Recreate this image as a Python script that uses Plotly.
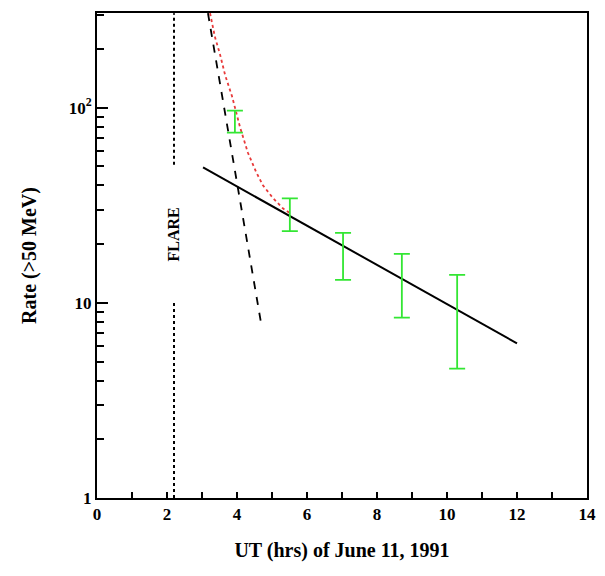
import plotly.graph_objects as go

# measured points (UT hours, rate) with asymmetric error bars
obs_x = [3.94, 5.51, 7.03, 8.71, 10.29]
obs_y = [85.0, 28.8, 18.0, 13.1, 9.25]
obs_hi = [96.6, 34.3, 22.8, 17.8, 13.9]
obs_lo = [74.5, 23.3, 13.1, 8.4, 4.6]

# slow decay fit (solid) and fast decay fit (dashed), end points
slow_x = [3.03, 12.0]
slow_y = [49.4, 6.2]
fast_x = [3.17, 4.71]
fast_y = [305, 7.45]

# sum of both components (red dotted)
sum_x = [3.23, 3.37, 3.51, 3.66, 3.86, 4.09, 4.31, 4.54, 4.74, 5.03, 5.31, 5.51]
sum_y = [305, 230, 189, 147, 114, 79, 58.9, 47.1, 40.0, 34.4, 30.5, 28.8]

# flare marker
flare_x = 2.2
flare_upper = [51, 305]
flare_lower = [1, 10]

FONT = "Liberation Serif"

fig = go.Figure()

fig.add_trace(go.Scatter(
    x=[flare_x, flare_x], y=flare_upper, mode="lines",
    line=dict(color="black", width=2, dash="dot"), showlegend=False))
fig.add_trace(go.Scatter(
    x=[flare_x, flare_x], y=flare_lower, mode="lines",
    line=dict(color="black", width=2, dash="dot"), showlegend=False))

fig.add_trace(go.Scatter(
    x=sum_x, y=sum_y, mode="lines",
    line=dict(color="#e83a3a", width=1.8, dash="dot"), showlegend=False))
fig.add_trace(go.Scatter(
    x=fast_x, y=fast_y, mode="lines",
    line=dict(color="black", width=1.8, dash="8px,8px"), showlegend=False))
fig.add_trace(go.Scatter(
    x=slow_x, y=slow_y, mode="lines",
    line=dict(color="black", width=2), showlegend=False))

fig.add_trace(go.Scatter(
    x=obs_x, y=obs_y, mode="markers",
    marker=dict(size=1, color="rgba(0,0,0,0)"),
    error_y=dict(type="data", symmetric=False,
                 array=[h - c for h, c in zip(obs_hi, obs_y)],
                 arrayminus=[c - l for c, l in zip(obs_y, obs_lo)],
                 color="#33e633", thickness=1.8, width=8),
    showlegend=False))

fig.add_annotation(
    x=flare_x, y=1.35, yref="y", text="FLARE", textangle=-90, showarrow=False,
    font=dict(family=FONT, size=16, color="black", weight="bold"))

fig.update_xaxes(
    range=[0, 14], dtick=2, ticks="inside", ticklen=6, tickwidth=1.5,
    tickcolor="black", showline=True, linewidth=2, linecolor="black",
    mirror=True, showgrid=False, zeroline=False,
    minor=dict(dtick=1, ticks="inside", ticklen=6, tickwidth=1.5, tickcolor="black"),
    tickfont=dict(family=FONT, size=17, color="black", weight="bold"),
    title=dict(text="UT (hrs) of June 11, 1991", standoff=20,
               font=dict(family=FONT, size=20, color="black", weight="bold")))

fig.update_yaxes(
    type="log", range=[0, 2.485], tickvals=[1, 10, 100],
    ticktext=["1", "10", "10<sup>2</sup>"],
    ticks="inside", ticklen=11, tickwidth=1.5, tickcolor="black",
    showline=True, linewidth=2, linecolor="black", mirror=True,
    showgrid=False, zeroline=False,
    minor=dict(tickvals=[2, 3, 4, 5, 6, 7, 8, 9, 20, 30, 40, 50, 60, 70, 80, 90, 200, 300],
               ticks="inside", ticklen=7, tickwidth=1.5, tickcolor="black"),
    tickfont=dict(family=FONT, size=17, color="black", weight="bold"),
    title=dict(text="Rate (>50 MeV)", standoff=27,
               font=dict(family=FONT, size=20, color="black", weight="bold")))

# page body adds an 8px offset, so the figure is sized to fit the window
fig.update_layout(
    width=597, height=568,
    margin=dict(l=89, r=18, t=3, b=78),
    plot_bgcolor="white", paper_bgcolor="white",
)

fig.write_html("out.html")
